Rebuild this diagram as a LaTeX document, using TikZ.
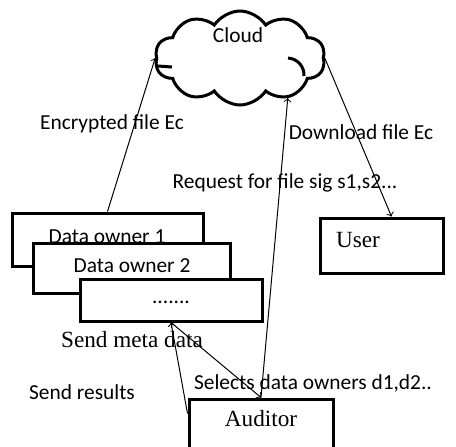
\documentclass[tikz,border=0pt]{standalone}
\usepackage{fontspec}
\setmainfont{Liberation Serif}
\newfontfamily\calibri{Carlito}
\usetikzlibrary{shapes.symbols,arrows}

\begin{document}
\begin{tikzpicture}[x=0.5pt, y=-0.5pt, >=to,
		box/.style={draw, fill=white, line width=1.5pt, rectangle, inner sep=0pt},
		lbl/.style={font=\calibri\fontsize{10.7}{12}\selectfont, inner sep=0pt},
		serif/.style={font=\fontsize{11.6}{13}\selectfont, inner sep=0pt},
		arr/.style={->, line width=0.5pt},
		every node/.style={anchor=center}]

	\clip (0,0) rectangle (456,446);

	% the cloud
	\node [cloud, draw, line width=1.5pt, cloud puffs=10, cloud puff arc=115, aspect=1.8,
		minimum width=85pt, minimum height=47pt, inner sep=0pt] (cloud) at (240,58) {};
	\draw [line width=1.5pt] (158,66) -- (172,67);
	\draw [line width=1.5pt] (288,58) to[bend left=45] (304,76);
	\node [lbl] (cloudtxt) at (238,35) {Cloud};

	% data owners, stacked
	\node [box, minimum width=95.5pt, minimum height=26.5pt] (own1) at (107.5,239.5) {};
	\node [lbl] (own1txt) at (107,237) {Data owner 1};
	\node [box, minimum width=98.5pt, minimum height=25pt] (own2) at (131.5,268) {};
	\node [lbl] (own2txt) at (132,266) {Data owner 2};
	\node [box, minimum width=91pt, minimum height=21pt] (own3) at (171,300) {};
	\node [lbl] (own3txt) at (171,302) {.......};

	% user and auditor
	\node [box, minimum width=61.5pt, minimum height=27.5pt] (user) at (381.5,245.5) {};
	\node [serif] (usertxt) at (358,240) {User};
	\node [box, minimum width=72pt, minimum height=40pt] (auditor) at (261,439) {};
	\node [serif] (audtxt) at (261,419) {Auditor};

	% connectors
	\draw [arr] (own1.north) -- (cloud.west);
	\draw [arr] (cloud.east) -- ([xshift=5pt]user.north);
	\draw [arr] (auditor.north) -- (cloud.-40);
	\draw [<->, line width=0.5pt] (own3.south) -- (auditor.north);
	\draw [arr] ([yshift=-8pt]auditor.north west) -- (own3.south);

	% labels
	\node [lbl] (encl) at (112,124) {Encrypted file Ec};
	\node [lbl] (downl) at (361,132) {Download file Ec};
	\node [lbl] (reql) at (285,183) {Request for file sig s1,s2...};
	\node [serif] (metal) at (132,340) {Send meta data};
	\node [lbl] (resl) at (82,392) {Send results};
	\node [lbl] (sell) at (313,383) {Selects data owners d1,d2..};

\end{tikzpicture}
\end{document}
